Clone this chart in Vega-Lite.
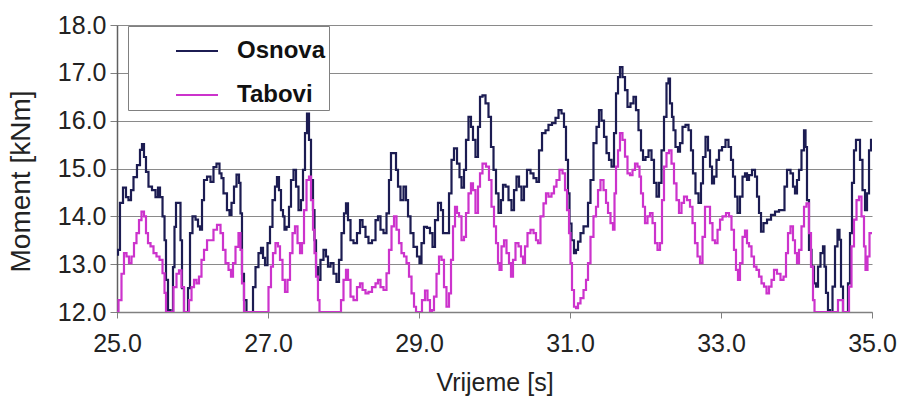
{
"$schema":"https://vega.github.io/schema/vega-lite/v6.json",
"width":755,"height":287,
"autosize":{"type":"none"},
"padding":{"left":117,"top":25,"right":27,"bottom":92},
"background":"white",
"config":{"view":{"stroke":null},"font":"Liberation Sans"},
"data":{"values":[
{"s":"Osnova","t":25.000,"m":13.2},{"s":"Osnova","t":25.026,"m":13.3},{"s":"Osnova","t":25.053,"m":14.28},{"s":"Osnova","t":25.106,"m":14.6},{"s":"Osnova","t":25.132,"m":14.4},{"s":"Osnova","t":25.172,"m":14.34},{"s":"Osnova","t":25.199,"m":14.55},{"s":"Osnova","t":25.238,"m":14.82},{"s":"Osnova","t":25.291,"m":15.07},{"s":"Osnova","t":25.318,"m":15.39},{"s":"Osnova","t":25.344,"m":15.51},{"s":"Osnova","t":25.371,"m":15.24},{"s":"Osnova","t":25.397,"m":14.93},{"s":"Osnova","t":25.437,"m":14.62},{"s":"Osnova","t":25.490,"m":14.55},{"s":"Osnova","t":25.530,"m":14.4},{"s":"Osnova","t":25.556,"m":14.6},{"s":"Osnova","t":25.583,"m":14.4},{"s":"Osnova","t":25.623,"m":14.0},{"s":"Osnova","t":25.636,"m":13.5},{"s":"Osnova","t":25.662,"m":12.67},{"s":"Osnova","t":25.689,"m":12.04},{"s":"Osnova","t":25.728,"m":12.0},{"s":"Osnova","t":25.755,"m":12.94},{"s":"Osnova","t":25.768,"m":13.78},{"s":"Osnova","t":25.795,"m":14.28},{"s":"Osnova","t":25.834,"m":14.28},{"s":"Osnova","t":25.848,"m":13.5},{"s":"Osnova","t":25.874,"m":12.5},{"s":"Osnova","t":25.901,"m":12.0},{"s":"Osnova","t":25.927,"m":12.0},{"s":"Osnova","t":25.954,"m":12.5},{"s":"Osnova","t":25.980,"m":13.65},{"s":"Osnova","t":26.020,"m":14.0},{"s":"Osnova","t":26.060,"m":13.93},{"s":"Osnova","t":26.086,"m":13.79},{"s":"Osnova","t":26.113,"m":13.72},{"s":"Osnova","t":26.139,"m":14.34},{"s":"Osnova","t":26.166,"m":14.76},{"s":"Osnova","t":26.219,"m":14.83},{"s":"Osnova","t":26.258,"m":14.72},{"s":"Osnova","t":26.298,"m":15.03},{"s":"Osnova","t":26.338,"m":15.1},{"s":"Osnova","t":26.377,"m":14.9},{"s":"Osnova","t":26.391,"m":14.8},{"s":"Osnova","t":26.430,"m":14.48},{"s":"Osnova","t":26.483,"m":14.13},{"s":"Osnova","t":26.497,"m":14.03},{"s":"Osnova","t":26.536,"m":14.28},{"s":"Osnova","t":26.563,"m":14.62},{"s":"Osnova","t":26.603,"m":14.87},{"s":"Osnova","t":26.629,"m":14.7},{"s":"Osnova","t":26.642,"m":14.06},{"s":"Osnova","t":26.669,"m":12.8},{"s":"Osnova","t":26.695,"m":12.25},{"s":"Osnova","t":26.735,"m":12.0},{"s":"Osnova","t":26.788,"m":12.0},{"s":"Osnova","t":26.815,"m":12.52},{"s":"Osnova","t":26.854,"m":12.94},{"s":"Osnova","t":26.894,"m":13.23},{"s":"Osnova","t":26.921,"m":13.34},{"s":"Osnova","t":26.947,"m":13.13},{"s":"Osnova","t":26.974,"m":12.98},{"s":"Osnova","t":27.013,"m":13.44},{"s":"Osnova","t":27.040,"m":13.78},{"s":"Osnova","t":27.079,"m":14.34},{"s":"Osnova","t":27.106,"m":14.62},{"s":"Osnova","t":27.132,"m":14.82},{"s":"Osnova","t":27.159,"m":14.55},{"s":"Osnova","t":27.185,"m":14.13},{"s":"Osnova","t":27.212,"m":14.0},{"s":"Osnova","t":27.225,"m":13.72},{"s":"Osnova","t":27.265,"m":13.78},{"s":"Osnova","t":27.291,"m":14.2},{"s":"Osnova","t":27.318,"m":14.76},{"s":"Osnova","t":27.358,"m":14.97},{"s":"Osnova","t":27.384,"m":14.62},{"s":"Osnova","t":27.424,"m":14.13},{"s":"Osnova","t":27.450,"m":14.34},{"s":"Osnova","t":27.477,"m":14.97},{"s":"Osnova","t":27.503,"m":15.74},{"s":"Osnova","t":27.530,"m":16.15},{"s":"Osnova","t":27.556,"m":15.6},{"s":"Osnova","t":27.583,"m":14.76},{"s":"Osnova","t":27.609,"m":14.13},{"s":"Osnova","t":27.623,"m":13.5},{"s":"Osnova","t":27.649,"m":12.94},{"s":"Osnova","t":27.675,"m":12.67},{"s":"Osnova","t":27.715,"m":13.09},{"s":"Osnova","t":27.755,"m":13.3},{"s":"Osnova","t":27.781,"m":13.16},{"s":"Osnova","t":27.808,"m":12.95},{"s":"Osnova","t":27.848,"m":13.02},{"s":"Osnova","t":27.887,"m":12.8},{"s":"Osnova","t":27.927,"m":12.63},{"s":"Osnova","t":27.954,"m":13.09},{"s":"Osnova","t":27.993,"m":13.65},{"s":"Osnova","t":28.020,"m":14.06},{"s":"Osnova","t":28.046,"m":14.27},{"s":"Osnova","t":28.073,"m":13.92},{"s":"Osnova","t":28.113,"m":13.5},{"s":"Osnova","t":28.152,"m":13.44},{"s":"Osnova","t":28.205,"m":13.65},{"s":"Osnova","t":28.232,"m":13.92},{"s":"Osnova","t":28.272,"m":13.78},{"s":"Osnova","t":28.311,"m":13.57},{"s":"Osnova","t":28.351,"m":13.44},{"s":"Osnova","t":28.404,"m":13.5},{"s":"Osnova","t":28.444,"m":13.92},{"s":"Osnova","t":28.470,"m":14.0},{"s":"Osnova","t":28.510,"m":13.72},{"s":"Osnova","t":28.550,"m":13.65},{"s":"Osnova","t":28.589,"m":14.06},{"s":"Osnova","t":28.616,"m":14.76},{"s":"Osnova","t":28.642,"m":15.32},{"s":"Osnova","t":28.682,"m":15.32},{"s":"Osnova","t":28.709,"m":14.97},{"s":"Osnova","t":28.735,"m":14.62},{"s":"Osnova","t":28.775,"m":14.34},{"s":"Osnova","t":28.815,"m":14.62},{"s":"Osnova","t":28.841,"m":14.34},{"s":"Osnova","t":28.868,"m":14.0},{"s":"Osnova","t":28.907,"m":13.65},{"s":"Osnova","t":28.947,"m":13.36},{"s":"Osnova","t":29.000,"m":13.16},{"s":"Osnova","t":29.013,"m":13.02},{"s":"Osnova","t":29.053,"m":13.44},{"s":"Osnova","t":29.079,"m":13.78},{"s":"Osnova","t":29.132,"m":13.76},{"s":"Osnova","t":29.159,"m":13.65},{"s":"Osnova","t":29.199,"m":13.36},{"s":"Osnova","t":29.225,"m":13.92},{"s":"Osnova","t":29.278,"m":14.28},{"s":"Osnova","t":29.305,"m":14.13},{"s":"Osnova","t":29.331,"m":13.65},{"s":"Osnova","t":29.384,"m":13.65},{"s":"Osnova","t":29.411,"m":14.48},{"s":"Osnova","t":29.450,"m":15.18},{"s":"Osnova","t":29.477,"m":15.42},{"s":"Osnova","t":29.530,"m":15.1},{"s":"Osnova","t":29.543,"m":14.82},{"s":"Osnova","t":29.583,"m":14.6},{"s":"Osnova","t":29.609,"m":14.97},{"s":"Osnova","t":29.636,"m":15.6},{"s":"Osnova","t":29.675,"m":16.08},{"s":"Osnova","t":29.702,"m":15.87},{"s":"Osnova","t":29.728,"m":15.6},{"s":"Osnova","t":29.768,"m":15.24},{"s":"Osnova","t":29.795,"m":15.87},{"s":"Osnova","t":29.821,"m":16.5},{"s":"Osnova","t":29.861,"m":16.53},{"s":"Osnova","t":29.901,"m":16.36},{"s":"Osnova","t":29.940,"m":16.08},{"s":"Osnova","t":29.967,"m":15.45},{"s":"Osnova","t":30.007,"m":14.97},{"s":"Osnova","t":30.033,"m":14.48},{"s":"Osnova","t":30.073,"m":14.07},{"s":"Osnova","t":30.099,"m":14.34},{"s":"Osnova","t":30.126,"m":14.66},{"s":"Osnova","t":30.166,"m":14.62},{"s":"Osnova","t":30.205,"m":14.34},{"s":"Osnova","t":30.245,"m":14.13},{"s":"Osnova","t":30.272,"m":14.55},{"s":"Osnova","t":30.311,"m":14.83},{"s":"Osnova","t":30.338,"m":14.62},{"s":"Osnova","t":30.377,"m":14.34},{"s":"Osnova","t":30.404,"m":14.62},{"s":"Osnova","t":30.457,"m":14.97},{"s":"Osnova","t":30.497,"m":14.9},{"s":"Osnova","t":30.536,"m":14.8},{"s":"Osnova","t":30.576,"m":14.72},{"s":"Osnova","t":30.603,"m":15.38},{"s":"Osnova","t":30.656,"m":15.74},{"s":"Osnova","t":30.695,"m":15.8},{"s":"Osnova","t":30.735,"m":15.91},{"s":"Osnova","t":30.788,"m":15.95},{"s":"Osnova","t":30.828,"m":16.06},{"s":"Osnova","t":30.868,"m":16.22},{"s":"Osnova","t":30.907,"m":16.15},{"s":"Osnova","t":30.934,"m":15.87},{"s":"Osnova","t":30.960,"m":15.18},{"s":"Osnova","t":30.987,"m":14.48},{"s":"Osnova","t":31.000,"m":13.85},{"s":"Osnova","t":31.040,"m":13.5},{"s":"Osnova","t":31.066,"m":13.23},{"s":"Osnova","t":31.093,"m":13.3},{"s":"Osnova","t":31.119,"m":13.47},{"s":"Osnova","t":31.159,"m":13.65},{"s":"Osnova","t":31.199,"m":13.79},{"s":"Osnova","t":31.225,"m":13.79},{"s":"Osnova","t":31.252,"m":14.28},{"s":"Osnova","t":31.291,"m":14.76},{"s":"Osnova","t":31.331,"m":15.53},{"s":"Osnova","t":31.371,"m":15.87},{"s":"Osnova","t":31.397,"m":16.22},{"s":"Osnova","t":31.437,"m":16.0},{"s":"Osnova","t":31.464,"m":15.66},{"s":"Osnova","t":31.503,"m":15.32},{"s":"Osnova","t":31.530,"m":15.18},{"s":"Osnova","t":31.570,"m":15.04},{"s":"Osnova","t":31.596,"m":15.74},{"s":"Osnova","t":31.623,"m":16.57},{"s":"Osnova","t":31.649,"m":16.91},{"s":"Osnova","t":31.675,"m":17.12},{"s":"Osnova","t":31.715,"m":16.91},{"s":"Osnova","t":31.742,"m":16.64},{"s":"Osnova","t":31.781,"m":16.29},{"s":"Osnova","t":31.821,"m":16.36},{"s":"Osnova","t":31.861,"m":16.5},{"s":"Osnova","t":31.887,"m":16.22},{"s":"Osnova","t":31.927,"m":15.8},{"s":"Osnova","t":31.954,"m":15.38},{"s":"Osnova","t":31.980,"m":15.18},{"s":"Osnova","t":32.020,"m":15.24},{"s":"Osnova","t":32.060,"m":15.38},{"s":"Osnova","t":32.099,"m":15.18},{"s":"Osnova","t":32.126,"m":14.7},{"s":"Osnova","t":32.166,"m":14.41},{"s":"Osnova","t":32.192,"m":14.7},{"s":"Osnova","t":32.232,"m":15.38},{"s":"Osnova","t":32.258,"m":16.08},{"s":"Osnova","t":32.298,"m":16.78},{"s":"Osnova","t":32.311,"m":16.88},{"s":"Osnova","t":32.338,"m":16.36},{"s":"Osnova","t":32.364,"m":16.08},{"s":"Osnova","t":32.377,"m":15.8},{"s":"Osnova","t":32.417,"m":15.45},{"s":"Osnova","t":32.444,"m":15.35},{"s":"Osnova","t":32.470,"m":15.53},{"s":"Osnova","t":32.510,"m":15.87},{"s":"Osnova","t":32.550,"m":15.91},{"s":"Osnova","t":32.589,"m":15.8},{"s":"Osnova","t":32.616,"m":15.38},{"s":"Osnova","t":32.642,"m":14.9},{"s":"Osnova","t":32.682,"m":14.48},{"s":"Osnova","t":32.722,"m":14.28},{"s":"Osnova","t":32.748,"m":14.69},{"s":"Osnova","t":32.775,"m":15.24},{"s":"Osnova","t":32.815,"m":15.66},{"s":"Osnova","t":32.841,"m":15.38},{"s":"Osnova","t":32.868,"m":15.04},{"s":"Osnova","t":32.894,"m":14.69},{"s":"Osnova","t":32.921,"m":14.83},{"s":"Osnova","t":32.960,"m":15.18},{"s":"Osnova","t":32.987,"m":15.38},{"s":"Osnova","t":33.040,"m":15.45},{"s":"Osnova","t":33.079,"m":15.6},{"s":"Osnova","t":33.119,"m":15.45},{"s":"Osnova","t":33.146,"m":15.18},{"s":"Osnova","t":33.172,"m":14.83},{"s":"Osnova","t":33.199,"m":14.41},{"s":"Osnova","t":33.238,"m":14.07},{"s":"Osnova","t":33.265,"m":14.41},{"s":"Osnova","t":33.305,"m":14.83},{"s":"Osnova","t":33.331,"m":14.9},{"s":"Osnova","t":33.358,"m":14.76},{"s":"Osnova","t":33.384,"m":14.86},{"s":"Osnova","t":33.437,"m":14.97},{"s":"Osnova","t":33.464,"m":14.83},{"s":"Osnova","t":33.490,"m":14.41},{"s":"Osnova","t":33.517,"m":14.07},{"s":"Osnova","t":33.543,"m":13.68},{"s":"Osnova","t":33.583,"m":13.86},{"s":"Osnova","t":33.636,"m":13.93},{"s":"Osnova","t":33.689,"m":14.03},{"s":"Osnova","t":33.742,"m":14.1},{"s":"Osnova","t":33.795,"m":14.13},{"s":"Osnova","t":33.834,"m":14.13},{"s":"Osnova","t":33.848,"m":14.62},{"s":"Osnova","t":33.901,"m":14.97},{"s":"Osnova","t":33.940,"m":14.9},{"s":"Osnova","t":33.967,"m":14.62},{"s":"Osnova","t":33.993,"m":14.48},{"s":"Osnova","t":34.020,"m":14.76},{"s":"Osnova","t":34.046,"m":14.97},{"s":"Osnova","t":34.086,"m":15.38},{"s":"Osnova","t":34.113,"m":15.8},{"s":"Osnova","t":34.126,"m":15.45},{"s":"Osnova","t":34.152,"m":14.34},{"s":"Osnova","t":34.179,"m":13.3},{"s":"Osnova","t":34.219,"m":12.95},{"s":"Osnova","t":34.245,"m":12.6},{"s":"Osnova","t":34.272,"m":12.53},{"s":"Osnova","t":34.298,"m":12.95},{"s":"Osnova","t":34.338,"m":13.23},{"s":"Osnova","t":34.364,"m":13.37},{"s":"Osnova","t":34.377,"m":12.95},{"s":"Osnova","t":34.404,"m":12.4},{"s":"Osnova","t":34.430,"m":12.04},{"s":"Osnova","t":34.457,"m":12.0},{"s":"Osnova","t":34.497,"m":12.53},{"s":"Osnova","t":34.523,"m":13.37},{"s":"Osnova","t":34.563,"m":13.72},{"s":"Osnova","t":34.576,"m":13.51},{"s":"Osnova","t":34.603,"m":12.53},{"s":"Osnova","t":34.629,"m":12.0},{"s":"Osnova","t":34.669,"m":12.0},{"s":"Osnova","t":34.695,"m":12.6},{"s":"Osnova","t":34.722,"m":13.65},{"s":"Osnova","t":34.748,"m":14.7},{"s":"Osnova","t":34.775,"m":15.38},{"s":"Osnova","t":34.801,"m":15.6},{"s":"Osnova","t":34.828,"m":15.6},{"s":"Osnova","t":34.854,"m":15.18},{"s":"Osnova","t":34.894,"m":14.55},{"s":"Osnova","t":34.921,"m":14.13},{"s":"Osnova","t":34.947,"m":14.48},{"s":"Osnova","t":34.974,"m":15.38},{"s":"Osnova","t":35.000,"m":15.6},
{"s":"Tabovi","t":25.000,"m":12.0},{"s":"Tabovi","t":25.040,"m":12.25},{"s":"Tabovi","t":25.079,"m":12.8},{"s":"Tabovi","t":25.106,"m":13.23},{"s":"Tabovi","t":25.146,"m":13.16},{"s":"Tabovi","t":25.172,"m":13.02},{"s":"Tabovi","t":25.212,"m":13.16},{"s":"Tabovi","t":25.238,"m":13.44},{"s":"Tabovi","t":25.278,"m":13.65},{"s":"Tabovi","t":25.305,"m":13.92},{"s":"Tabovi","t":25.344,"m":14.1},{"s":"Tabovi","t":25.371,"m":14.0},{"s":"Tabovi","t":25.397,"m":13.65},{"s":"Tabovi","t":25.424,"m":13.44},{"s":"Tabovi","t":25.464,"m":13.37},{"s":"Tabovi","t":25.503,"m":13.23},{"s":"Tabovi","t":25.543,"m":13.16},{"s":"Tabovi","t":25.583,"m":13.09},{"s":"Tabovi","t":25.623,"m":12.81},{"s":"Tabovi","t":25.636,"m":12.4},{"s":"Tabovi","t":25.662,"m":12.0},{"s":"Tabovi","t":25.728,"m":12.0},{"s":"Tabovi","t":25.768,"m":12.52},{"s":"Tabovi","t":25.808,"m":12.8},{"s":"Tabovi","t":25.834,"m":12.87},{"s":"Tabovi","t":25.874,"m":12.52},{"s":"Tabovi","t":25.901,"m":12.0},{"s":"Tabovi","t":25.940,"m":12.0},{"s":"Tabovi","t":25.967,"m":12.25},{"s":"Tabovi","t":26.007,"m":12.52},{"s":"Tabovi","t":26.033,"m":12.67},{"s":"Tabovi","t":26.073,"m":12.6},{"s":"Tabovi","t":26.099,"m":12.74},{"s":"Tabovi","t":26.139,"m":13.09},{"s":"Tabovi","t":26.166,"m":13.3},{"s":"Tabovi","t":26.219,"m":13.5},{"s":"Tabovi","t":26.258,"m":13.5},{"s":"Tabovi","t":26.298,"m":13.72},{"s":"Tabovi","t":26.351,"m":13.82},{"s":"Tabovi","t":26.391,"m":13.65},{"s":"Tabovi","t":26.417,"m":13.3},{"s":"Tabovi","t":26.457,"m":13.02},{"s":"Tabovi","t":26.497,"m":12.88},{"s":"Tabovi","t":26.523,"m":12.74},{"s":"Tabovi","t":26.550,"m":13.02},{"s":"Tabovi","t":26.589,"m":13.36},{"s":"Tabovi","t":26.629,"m":13.65},{"s":"Tabovi","t":26.642,"m":13.3},{"s":"Tabovi","t":26.669,"m":12.6},{"s":"Tabovi","t":26.695,"m":12.0},{"s":"Tabovi","t":26.987,"m":12.0},{"s":"Tabovi","t":27.026,"m":12.52},{"s":"Tabovi","t":27.053,"m":12.95},{"s":"Tabovi","t":27.079,"m":13.23},{"s":"Tabovi","t":27.119,"m":13.44},{"s":"Tabovi","t":27.146,"m":13.37},{"s":"Tabovi","t":27.172,"m":13.09},{"s":"Tabovi","t":27.212,"m":12.67},{"s":"Tabovi","t":27.238,"m":12.42},{"s":"Tabovi","t":27.278,"m":12.67},{"s":"Tabovi","t":27.305,"m":13.23},{"s":"Tabovi","t":27.344,"m":13.65},{"s":"Tabovi","t":27.371,"m":13.79},{"s":"Tabovi","t":27.411,"m":13.44},{"s":"Tabovi","t":27.437,"m":13.23},{"s":"Tabovi","t":27.464,"m":13.44},{"s":"Tabovi","t":27.490,"m":14.13},{"s":"Tabovi","t":27.530,"m":14.76},{"s":"Tabovi","t":27.556,"m":14.83},{"s":"Tabovi","t":27.583,"m":14.34},{"s":"Tabovi","t":27.609,"m":13.72},{"s":"Tabovi","t":27.623,"m":13.23},{"s":"Tabovi","t":27.649,"m":12.74},{"s":"Tabovi","t":27.675,"m":12.25},{"s":"Tabovi","t":27.689,"m":12.0},{"s":"Tabovi","t":27.954,"m":12.0},{"s":"Tabovi","t":27.980,"m":12.25},{"s":"Tabovi","t":28.020,"m":12.67},{"s":"Tabovi","t":28.046,"m":12.88},{"s":"Tabovi","t":28.073,"m":12.67},{"s":"Tabovi","t":28.113,"m":12.32},{"s":"Tabovi","t":28.152,"m":12.25},{"s":"Tabovi","t":28.205,"m":12.52},{"s":"Tabovi","t":28.232,"m":12.6},{"s":"Tabovi","t":28.272,"m":12.46},{"s":"Tabovi","t":28.311,"m":12.39},{"s":"Tabovi","t":28.351,"m":12.42},{"s":"Tabovi","t":28.404,"m":12.52},{"s":"Tabovi","t":28.444,"m":12.6},{"s":"Tabovi","t":28.470,"m":12.67},{"s":"Tabovi","t":28.510,"m":12.52},{"s":"Tabovi","t":28.550,"m":12.46},{"s":"Tabovi","t":28.589,"m":12.81},{"s":"Tabovi","t":28.616,"m":13.3},{"s":"Tabovi","t":28.656,"m":13.79},{"s":"Tabovi","t":28.682,"m":14.0},{"s":"Tabovi","t":28.722,"m":13.72},{"s":"Tabovi","t":28.748,"m":13.44},{"s":"Tabovi","t":28.788,"m":13.23},{"s":"Tabovi","t":28.815,"m":13.16},{"s":"Tabovi","t":28.854,"m":13.02},{"s":"Tabovi","t":28.881,"m":12.74},{"s":"Tabovi","t":28.921,"m":12.39},{"s":"Tabovi","t":28.947,"m":12.11},{"s":"Tabovi","t":28.974,"m":12.0},{"s":"Tabovi","t":29.013,"m":12.0},{"s":"Tabovi","t":29.066,"m":12.25},{"s":"Tabovi","t":29.093,"m":12.45},{"s":"Tabovi","t":29.132,"m":12.25},{"s":"Tabovi","t":29.159,"m":12.0},{"s":"Tabovi","t":29.185,"m":12.04},{"s":"Tabovi","t":29.212,"m":12.32},{"s":"Tabovi","t":29.252,"m":12.8},{"s":"Tabovi","t":29.278,"m":13.16},{"s":"Tabovi","t":29.318,"m":13.09},{"s":"Tabovi","t":29.344,"m":12.52},{"s":"Tabovi","t":29.384,"m":12.11},{"s":"Tabovi","t":29.411,"m":12.39},{"s":"Tabovi","t":29.437,"m":13.09},{"s":"Tabovi","t":29.464,"m":13.79},{"s":"Tabovi","t":29.490,"m":14.2},{"s":"Tabovi","t":29.517,"m":14.07},{"s":"Tabovi","t":29.543,"m":14.0},{"s":"Tabovi","t":29.583,"m":13.5},{"s":"Tabovi","t":29.609,"m":13.57},{"s":"Tabovi","t":29.636,"m":14.07},{"s":"Tabovi","t":29.675,"m":14.48},{"s":"Tabovi","t":29.702,"m":14.69},{"s":"Tabovi","t":29.728,"m":14.55},{"s":"Tabovi","t":29.768,"m":14.07},{"s":"Tabovi","t":29.795,"m":14.62},{"s":"Tabovi","t":29.821,"m":14.9},{"s":"Tabovi","t":29.861,"m":15.1},{"s":"Tabovi","t":29.914,"m":15.04},{"s":"Tabovi","t":29.940,"m":14.76},{"s":"Tabovi","t":29.980,"m":14.2},{"s":"Tabovi","t":30.007,"m":13.79},{"s":"Tabovi","t":30.033,"m":13.44},{"s":"Tabovi","t":30.060,"m":13.02},{"s":"Tabovi","t":30.073,"m":12.88},{"s":"Tabovi","t":30.113,"m":13.37},{"s":"Tabovi","t":30.139,"m":13.5},{"s":"Tabovi","t":30.179,"m":13.23},{"s":"Tabovi","t":30.205,"m":13.02},{"s":"Tabovi","t":30.232,"m":12.74},{"s":"Tabovi","t":30.258,"m":13.09},{"s":"Tabovi","t":30.298,"m":13.44},{"s":"Tabovi","t":30.338,"m":13.37},{"s":"Tabovi","t":30.364,"m":13.16},{"s":"Tabovi","t":30.391,"m":13.02},{"s":"Tabovi","t":30.417,"m":13.37},{"s":"Tabovi","t":30.457,"m":13.65},{"s":"Tabovi","t":30.497,"m":13.72},{"s":"Tabovi","t":30.536,"m":13.65},{"s":"Tabovi","t":30.563,"m":13.5},{"s":"Tabovi","t":30.589,"m":13.44},{"s":"Tabovi","t":30.629,"m":14.0},{"s":"Tabovi","t":30.669,"m":14.27},{"s":"Tabovi","t":30.695,"m":14.48},{"s":"Tabovi","t":30.735,"m":14.41},{"s":"Tabovi","t":30.775,"m":14.48},{"s":"Tabovi","t":30.801,"m":14.62},{"s":"Tabovi","t":30.841,"m":14.76},{"s":"Tabovi","t":30.881,"m":14.97},{"s":"Tabovi","t":30.921,"m":14.9},{"s":"Tabovi","t":30.947,"m":14.55},{"s":"Tabovi","t":30.974,"m":14.13},{"s":"Tabovi","t":31.000,"m":13.65},{"s":"Tabovi","t":31.013,"m":13.02},{"s":"Tabovi","t":31.040,"m":12.46},{"s":"Tabovi","t":31.066,"m":12.11},{"s":"Tabovi","t":31.093,"m":12.08},{"s":"Tabovi","t":31.119,"m":12.18},{"s":"Tabovi","t":31.159,"m":12.29},{"s":"Tabovi","t":31.199,"m":12.46},{"s":"Tabovi","t":31.225,"m":12.67},{"s":"Tabovi","t":31.252,"m":13.02},{"s":"Tabovi","t":31.291,"m":13.57},{"s":"Tabovi","t":31.331,"m":14.0},{"s":"Tabovi","t":31.358,"m":14.2},{"s":"Tabovi","t":31.384,"m":14.55},{"s":"Tabovi","t":31.424,"m":14.76},{"s":"Tabovi","t":31.464,"m":14.55},{"s":"Tabovi","t":31.490,"m":14.28},{"s":"Tabovi","t":31.517,"m":14.07},{"s":"Tabovi","t":31.556,"m":13.86},{"s":"Tabovi","t":31.583,"m":13.72},{"s":"Tabovi","t":31.596,"m":14.48},{"s":"Tabovi","t":31.623,"m":15.04},{"s":"Tabovi","t":31.649,"m":15.38},{"s":"Tabovi","t":31.675,"m":15.74},{"s":"Tabovi","t":31.715,"m":15.6},{"s":"Tabovi","t":31.742,"m":15.25},{"s":"Tabovi","t":31.781,"m":14.9},{"s":"Tabovi","t":31.808,"m":14.86},{"s":"Tabovi","t":31.848,"m":14.97},{"s":"Tabovi","t":31.874,"m":15.1},{"s":"Tabovi","t":31.914,"m":15.04},{"s":"Tabovi","t":31.927,"m":14.83},{"s":"Tabovi","t":31.954,"m":14.48},{"s":"Tabovi","t":31.980,"m":14.2},{"s":"Tabovi","t":32.007,"m":13.86},{"s":"Tabovi","t":32.046,"m":14.0},{"s":"Tabovi","t":32.073,"m":14.07},{"s":"Tabovi","t":32.113,"m":13.86},{"s":"Tabovi","t":32.139,"m":13.44},{"s":"Tabovi","t":32.179,"m":13.3},{"s":"Tabovi","t":32.205,"m":13.44},{"s":"Tabovi","t":32.232,"m":14.34},{"s":"Tabovi","t":32.258,"m":15.04},{"s":"Tabovi","t":32.298,"m":15.32},{"s":"Tabovi","t":32.325,"m":15.38},{"s":"Tabovi","t":32.364,"m":15.1},{"s":"Tabovi","t":32.391,"m":14.69},{"s":"Tabovi","t":32.430,"m":14.34},{"s":"Tabovi","t":32.457,"m":14.07},{"s":"Tabovi","t":32.497,"m":14.28},{"s":"Tabovi","t":32.523,"m":14.41},{"s":"Tabovi","t":32.576,"m":14.34},{"s":"Tabovi","t":32.603,"m":14.2},{"s":"Tabovi","t":32.642,"m":13.86},{"s":"Tabovi","t":32.669,"m":13.44},{"s":"Tabovi","t":32.709,"m":13.16},{"s":"Tabovi","t":32.735,"m":13.02},{"s":"Tabovi","t":32.775,"m":13.57},{"s":"Tabovi","t":32.801,"m":14.2},{"s":"Tabovi","t":32.841,"m":14.2},{"s":"Tabovi","t":32.868,"m":13.86},{"s":"Tabovi","t":32.907,"m":13.5},{"s":"Tabovi","t":32.934,"m":13.44},{"s":"Tabovi","t":32.974,"m":13.72},{"s":"Tabovi","t":33.000,"m":13.93},{"s":"Tabovi","t":33.040,"m":14.0},{"s":"Tabovi","t":33.093,"m":14.07},{"s":"Tabovi","t":33.119,"m":14.0},{"s":"Tabovi","t":33.159,"m":13.72},{"s":"Tabovi","t":33.185,"m":13.3},{"s":"Tabovi","t":33.212,"m":12.88},{"s":"Tabovi","t":33.238,"m":12.67},{"s":"Tabovi","t":33.265,"m":13.02},{"s":"Tabovi","t":33.305,"m":13.57},{"s":"Tabovi","t":33.331,"m":13.7},{"s":"Tabovi","t":33.358,"m":13.44},{"s":"Tabovi","t":33.384,"m":13.37},{"s":"Tabovi","t":33.424,"m":13.16},{"s":"Tabovi","t":33.450,"m":12.95},{"s":"Tabovi","t":33.490,"m":12.88},{"s":"Tabovi","t":33.517,"m":12.74},{"s":"Tabovi","t":33.556,"m":12.6},{"s":"Tabovi","t":33.583,"m":12.53},{"s":"Tabovi","t":33.623,"m":12.39},{"s":"Tabovi","t":33.649,"m":12.53},{"s":"Tabovi","t":33.689,"m":12.67},{"s":"Tabovi","t":33.715,"m":12.88},{"s":"Tabovi","t":33.768,"m":12.8},{"s":"Tabovi","t":33.808,"m":12.67},{"s":"Tabovi","t":33.848,"m":12.74},{"s":"Tabovi","t":33.874,"m":13.23},{"s":"Tabovi","t":33.901,"m":13.65},{"s":"Tabovi","t":33.940,"m":13.79},{"s":"Tabovi","t":33.967,"m":13.5},{"s":"Tabovi","t":33.993,"m":13.23},{"s":"Tabovi","t":34.020,"m":13.02},{"s":"Tabovi","t":34.046,"m":13.3},{"s":"Tabovi","t":34.086,"m":13.79},{"s":"Tabovi","t":34.113,"m":14.2},{"s":"Tabovi","t":34.152,"m":14.27},{"s":"Tabovi","t":34.179,"m":13.65},{"s":"Tabovi","t":34.205,"m":12.95},{"s":"Tabovi","t":34.232,"m":12.25},{"s":"Tabovi","t":34.245,"m":12.0},{"s":"Tabovi","t":34.536,"m":12.0},{"s":"Tabovi","t":34.563,"m":12.25},{"s":"Tabovi","t":34.603,"m":12.25},{"s":"Tabovi","t":34.629,"m":12.0},{"s":"Tabovi","t":34.682,"m":12.0},{"s":"Tabovi","t":34.709,"m":12.53},{"s":"Tabovi","t":34.748,"m":13.37},{"s":"Tabovi","t":34.775,"m":13.93},{"s":"Tabovi","t":34.815,"m":14.34},{"s":"Tabovi","t":34.841,"m":14.41},{"s":"Tabovi","t":34.881,"m":14.0},{"s":"Tabovi","t":34.907,"m":13.37},{"s":"Tabovi","t":34.921,"m":12.88},{"s":"Tabovi","t":34.960,"m":13.16},{"s":"Tabovi","t":34.974,"m":13.65},{"s":"Tabovi","t":35.000,"m":13.65}
]},
"mark":{"type":"line","interpolate":"step","strokeWidth":2.2,"clip":true},
"encoding":{
"x":{"field":"t","type":"quantitative","scale":{"domain":[25,35],"nice":false},
"axis":{"values":[25,27,29,31,33,35],"format":".1f","title":"Vrijeme [s]","grid":false,"domainColor":"#808080","domainWidth":1.5,"tickColor":"#808080","tickSize":6,"labelFontSize":25,"labelColor":"#222222","labelPadding":13,"labelFlush":false,"titleFontSize":25,"titleFontWeight":"normal","titleColor":"#222222","titlePadding":14}},
"y":{"field":"m","type":"quantitative","scale":{"domain":[12,18],"nice":false},
"axis":{"values":[12,13,14,15,16,17,18],"format":".1f","title":"Moment [kNm]","grid":true,"gridColor":"#8a8a8a","gridWidth":1.2,"domainColor":"#606060","domainWidth":1.5,"tickColor":"#808080","tickSize":7,"labelFontSize":25,"labelColor":"#222222","labelPadding":4,"titleFontSize":28,"titleFontWeight":"normal","titleColor":"#222222","titlePadding":22,"titleY":156}},
"color":{"field":"s","type":"nominal","scale":{"domain":["Osnova","Tabovi"],"range":["#1c1c52","#cc33cc"]},
"legend":{"title":null,"orient":"none","legendX":11,"legendY":1,"direction":"vertical","symbolType":"stroke","symbolSize":1764,"symbolStrokeWidth":2,"symbolOffset":44,"labelOffset":18,"labelFontSize":24,"labelFontWeight":"bold","labelColor":"#111111","labelExpr":"datum.label + '\u00a0\u00a0\u00a0\u00a0\u00a0\u00a0'","rowPadding":10,"padding":3,"strokeColor":"#808080","fillColor":"white"}}
}
}
